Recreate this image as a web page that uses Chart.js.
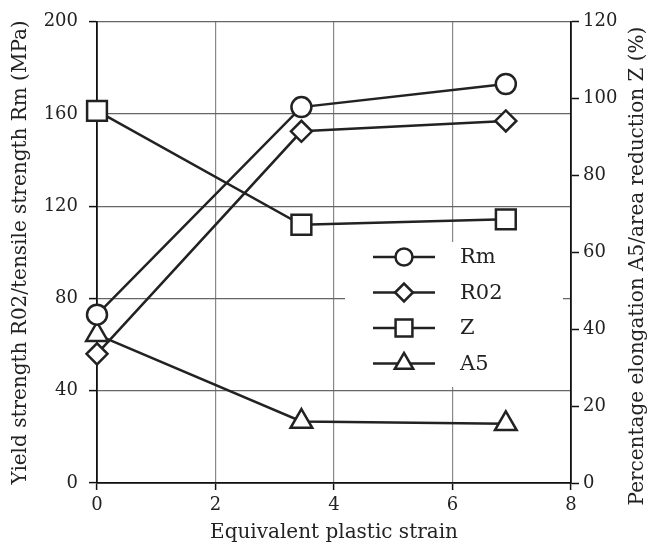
<!DOCTYPE html>
<html>
<head>
<meta charset="utf-8">
<script src="https://cdn.jsdelivr.net/npm/chart.js@4/dist/chart.umd.min.js"></script>
<style>
  html, body { margin: 0; padding: 0; background: #fff; }
  #wrap { width: 650px; height: 547px; }
</style>
</head>
<body>
<div id="wrap"><canvas id="chart" width="650" height="547"></canvas></div>
<script>
// Values
const strain = [0, 3.45, 6.9];
const rm = [73, 163, 173];          // MPa, left axis
const r02 = [56, 152.5, 157];       // MPa, left axis
const zRed = [96.8, 67.2, 68.6];    // %, right axis
const a5 = [38.6, 16, 15.4];        // %, right axis

const xTicks = [0, 2, 4, 6, 8];
const leftTicks = [0, 40, 80, 120, 160, 200];
const rightTicks = [0, 20, 40, 60, 80, 100, 120];

const seriesNames = ['Rm', 'R02', 'Z', 'A5'];
const rightTitle = 'Percentage elongation A5/area reduction Z (%)';

const ink = '#222';
const serif = "'DejaVu Serif', 'Liberation Serif', serif";

Chart.defaults.font.family = serif;
Chart.defaults.color = ink;

// pair x values with one series
const toPoints = function(values) {
    return strain.map(function(x, i) {
        return {x: x, y: values[i]};
    });
};

const makeSet = function(label, values, axis, style, radius) {
    return {
        label: label,
        data: toPoints(values),
        yAxisID: axis,
        showLine: true,
        borderColor: ink,
        borderWidth: 2.5,
        backgroundColor: '#fff',
        pointStyle: style,
        pointRadius: radius,
        pointHoverRadius: radius,
        pointBorderWidth: 2.5,
        pointBackgroundColor: '#fff',
        pointBorderColor: ink,
        clip: false
    };
};

// legend drawn inside the plot on a white box, like the figure
const innerLegend = {
    id: 'innerLegend',
    afterDatasetsDraw: function(chart) {
        const ctx = chart.ctx;
        const boxX = 345, boxY = 242, boxW = 218, boxH = 145;
        ctx.save();
        ctx.fillStyle = '#fff';
        ctx.fillRect(boxX, boxY, boxW, boxH);
        chart.data.datasets.forEach(function(ds, i) {
            const rowY = 257 + i * 35.5;
            ctx.strokeStyle = ink;
            ctx.lineWidth = 2.5;
            ctx.beginPath();
            ctx.moveTo(373, rowY);
            ctx.lineTo(435, rowY);
            ctx.stroke();
            ctx.fillStyle = '#fff';
            Chart.helpers.drawPoint(ctx, {
                pointStyle: ds.pointStyle,
                radius: ds.pointRadius * 0.85,
                rotation: 0,
                borderWidth: 2.5
            }, 404, rowY);
            ctx.fillStyle = ink;
            ctx.font = '21px ' + serif;
            ctx.textAlign = 'left';
            ctx.textBaseline = 'middle';
            ctx.fillText(ds.label, 460, rowY + 1);
        });
        ctx.restore();
    }
};

// right axis title reads bottom to top in the figure, so draw it by hand
const rightAxisTitle = {
    id: 'rightAxisTitle',
    afterDraw: function(chart) {
        const ctx = chart.ctx;
        ctx.save();
        ctx.translate(638, 266);
        ctx.rotate(-Math.PI / 2);
        ctx.fillStyle = ink;
        ctx.font = '20px ' + serif;
        ctx.textAlign = 'center';
        ctx.textBaseline = 'middle';
        ctx.fillText(rightTitle, 0, 0);
        ctx.restore();
    }
};

const fixedTicks = function(values) {
    return function(scale) {
        scale.ticks = values.map(function(v) { return {value: v}; });
    };
};

new Chart(document.getElementById('chart'), {
    type: 'scatter',
    data: {
        datasets: [
            makeSet(seriesNames[0], rm, 'yLeft', 'circle', 10),
            makeSet(seriesNames[1], r02, 'yLeft', 'rectRot', 10.5),
            makeSet(seriesNames[2], zRed, 'yRight', 'rect', 14),
            makeSet(seriesNames[3], a5, 'yRight', 'triangle', 12.5)
        ]
    },
    options: {
        responsive: false,
        animation: false,
        layout: {
            padding: {top: 17, left: 0, right: 0, bottom: 0}
        },
        plugins: {
            legend: {display: false},
            tooltip: {enabled: false}
        },
        scales: {
            x: {
                type: 'linear',
                min: 0,
                max: 8,
                afterBuildTicks: fixedTicks(xTicks),
                afterFit: function(scale) { scale.height = 64; },
                border: {color: '#111', width: 1.8},
                grid: {color: '#888', lineWidth: 1.2, tickLength: 7, tickColor: '#111', tickWidth: 1.5},
                ticks: {font: {size: 18}, padding: 5, maxRotation: 0},
                title: {
                    display: true,
                    text: 'Equivalent plastic strain',
                    font: {size: 20},
                    padding: {top: 0, bottom: 2}
                }
            },
            yLeft: {
                type: 'linear',
                position: 'left',
                min: 0,
                max: 200,
                afterBuildTicks: fixedTicks(leftTicks),
                afterFit: function(scale) { scale.width = 97; },
                border: {color: '#111', width: 1.8},
                grid: {color: '#666', lineWidth: 1.2, tickLength: 8, tickColor: '#111', tickWidth: 1.5},
                ticks: {font: {size: 18}, padding: 11},
                title: {
                    display: true,
                    text: 'Yield strength R02/tensile strength Rm (MPa)',
                    font: {size: 20},
                    padding: {top: 9, bottom: 0}
                }
            },
            yRight: {
                type: 'linear',
                position: 'right',
                min: 0,
                max: 120,
                afterBuildTicks: fixedTicks(rightTicks),
                afterFit: function(scale) { scale.width = 79; },
                border: {color: '#111', width: 1.8},
                grid: {drawOnChartArea: false, tickLength: 8, tickColor: '#111', tickWidth: 1.5},
                ticks: {font: {size: 18}, padding: 4},
                title: {display: false}
            }
        }
    },
    plugins: [innerLegend, rightAxisTitle]
});
</script>
</body>
</html>
